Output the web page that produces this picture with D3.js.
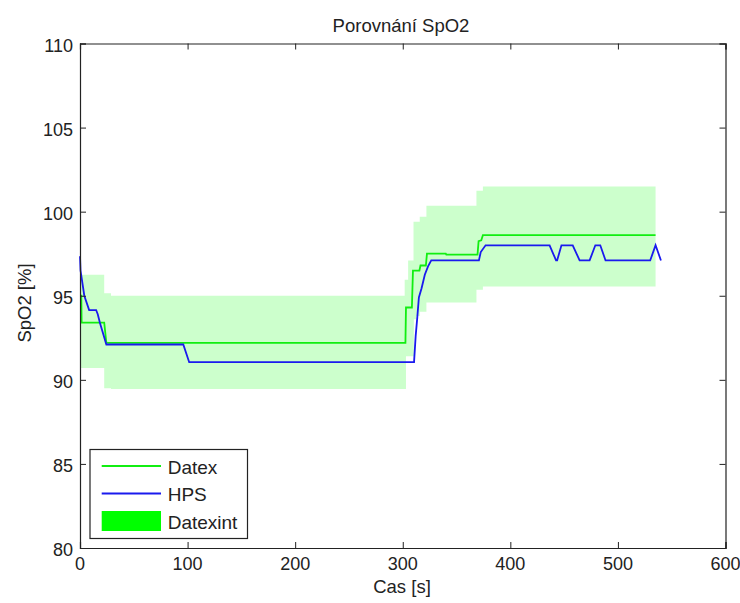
<!DOCTYPE html>
<html>
<head>
<meta charset="utf-8">
<script src="https://cdn.jsdelivr.net/npm/d3@7"></script>
<style>
body { margin: 0; background: #fff; }
svg text { font-family: "Liberation Sans", Arial, sans-serif; fill: #222; }
</style>
</head>
<body>
<svg width="740" height="603"></svg>
<script>
// Datex (green) - time [s], SpO2 [%]
var datexT = [0, 1.2, 1.5, 22.5, 24.5, 302.5, 303, 308.5, 309.5, 315.5, 316.5, 321.5, 322.5, 340, 340.5, 369.5, 370.5, 373, 374.5, 535];
var datexV = [95.0, 95.0, 93.4, 93.4, 92.2, 92.2, 94.3, 94.3, 96.5, 96.5, 96.8, 96.8, 97.5, 97.5, 97.45, 97.45, 98.25, 98.3, 98.6, 98.6];

// HPS (blue)
var hpsT = [0, 0.5, 4, 8.5, 15, 16.5, 18.5, 24.5, 96, 101.5, 310.5, 312, 313.5, 315, 317.5, 320.5, 323.5, 326.5, 370.8, 372.5, 377,
  436.5, 442.5, 443.5, 447.5, 458, 464.4, 473.7, 479, 483.6, 488.5, 530, 535, 540];
var hpsV = [97.35, 96.5, 95.0, 94.15, 94.15, 93.9, 93.4, 92.1, 92.1, 91.05, 91.05, 92.6, 93.7, 94.9, 95.45, 96.25, 96.75, 97.1, 97.1, 97.6, 98.0,
  98.0, 97.1, 97.1, 98.0, 98.0, 97.1, 97.1, 98.0, 98.0, 97.1, 97.1, 98.0, 97.1];

// Datexint (interval band), step after each time
var bandT  = [0, 22.5, 28.8, 301.8, 303, 305, 310, 310.3, 312.5, 315.8, 322, 368.5, 374.5, 535];
var bandHi = [96.25, 95.15, 95.0, 95.95, 95.95, 97.1, 99.4, 99.4, 99.4, 99.7, 100.35, 101.25, 101.5, 101.5];
var bandLo = [90.7, 89.5, 89.45, 89.45, 91.4, 91.4, 91.4, 93.6, 93.8, 94.05, 94.6, 95.35, 95.55, 95.55];

var xTicks = [0, 100, 200, 300, 400, 500, 600];
var yTicks = [80, 85, 90, 95, 100, 105, 110];

var svg = d3.select("svg");
var pLeft = 80, pRight = 725.5, pTop = 43.5, pBottom = 548;

var x = d3.scaleLinear().domain([0, 600]).range([pLeft, pRight]);
var y = d3.scaleLinear().domain([80, 110]).range([pBottom, pTop]);

// band
var band = bandT.map(function(t, i) { return {t: t, hi: bandHi[i], lo: bandLo[i]}; });
svg.append("path").datum(band)
  .attr("fill", "#ccffcc")
  .attr("d", d3.area().curve(d3.curveStepAfter)
    .x(function(d) { return x(d.t); })
    .y0(function(d) { return y(d.lo); })
    .y1(function(d) { return y(d.hi); }));

var line = d3.line().x(function(d) { return x(d[0]); }).y(function(d) { return y(d[1]); });

svg.append("path").datum(d3.zip(datexT, datexV))
  .attr("fill", "none").attr("stroke", "#11ee11").attr("stroke-width", 1.8)
  .attr("d", line);

svg.append("path").datum(d3.zip(hpsT, hpsV))
  .attr("fill", "none").attr("stroke", "#1a1aee").attr("stroke-width", 1.8)
  .attr("d", line);

// axes, ticks inside on all four sides
var tl = 6;
svg.append("g").attr("transform", "translate(0," + pBottom + ")")
  .call(d3.axisTop(x).tickValues(xTicks).tickSize(tl).tickFormat(""));
svg.append("g").attr("transform", "translate(0," + pTop + ")")
  .call(d3.axisBottom(x).tickValues(xTicks).tickSize(tl).tickFormat(""));
svg.append("g").attr("transform", "translate(" + pLeft + ",0)")
  .call(d3.axisRight(y).tickValues(yTicks).tickSize(tl).tickFormat(""));
svg.append("g").attr("transform", "translate(" + pRight + ",0)")
  .call(d3.axisLeft(y).tickValues(yTicks).tickSize(tl).tickFormat(""));
svg.selectAll(".domain").attr("stroke", "#222").attr("stroke-width", 1.2);
svg.selectAll(".tick line").attr("stroke", "#222");

// tick labels
svg.selectAll(".xl").data(xTicks).enter().append("text")
  .attr("x", function(d) { return x(d); }).attr("y", 570)
  .attr("text-anchor", "middle").attr("font-size", 18).text(function(d) { return d; });
svg.selectAll(".yl").data(yTicks).enter().append("text")
  .attr("x", 73).attr("y", function(d) { return y(d) + 8; })
  .attr("text-anchor", "end").attr("font-size", 18).text(function(d) { return d; });

svg.append("text").attr("x", 401).attr("y", 31.5).attr("text-anchor", "middle")
  .attr("font-size", 18.5).text("Porovnání SpO2");
svg.append("text").attr("x", 402).attr("y", 593).attr("text-anchor", "middle")
  .attr("font-size", 18.5).text("Cas [s]");
svg.append("text").attr("transform", "translate(31,303) rotate(-90)").attr("text-anchor", "middle")
  .attr("font-size", 18.5).text("SpO2 [%]");

// legend
var lg = svg.append("g");
lg.append("rect").attr("x", 90).attr("y", 449.5).attr("width", 157.5).attr("height", 89)
  .attr("fill", "#fff").attr("stroke", "#222").attr("stroke-width", 1.2);
var items = [
  {name: "Datex", color: "#11ee11", kind: "line"},
  {name: "HPS", color: "#1a1aee", kind: "line"},
  {name: "Datexint", color: "#00ff00", kind: "patch"}
];
items.forEach(function(it, i) {
  var cy = 466 + i * 27.5;
  if (it.kind == "line") {
    lg.append("line").attr("x1", 101.7).attr("x2", 161).attr("y1", cy).attr("y2", cy)
      .attr("stroke", it.color).attr("stroke-width", 1.8);
  } else {
    lg.append("rect").attr("x", 101.7).attr("y", cy - 10).attr("width", 59.3).attr("height", 20)
      .attr("fill", it.color);
  }
  lg.append("text").attr("x", 167.7).attr("y", cy + 7.5).attr("font-size", 19).text(it.name);
});
</script>
</body>
</html>
